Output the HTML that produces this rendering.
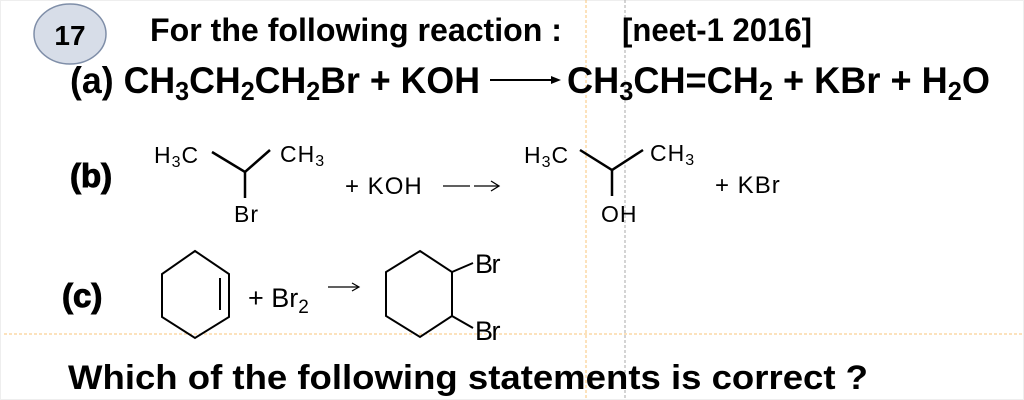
<!DOCTYPE html>
<html><head><style>
html,body{margin:0;padding:0;background:#fff;}
svg{display:block;}
text{font-family:"Liberation Sans",Arial,sans-serif;fill:#000;}
.b{font-weight:bold;}
</style></head><body>
<svg width="1024" height="400" viewBox="0 0 1024 400">
<rect x="0.5" y="0.5" width="1023" height="399" fill="#fff" stroke="#eee"/>
<line x1="586" y1="0" x2="586" y2="400" stroke="#f8c57a" stroke-width="1" stroke-dasharray="3,2"/>
<line x1="625" y1="0" x2="625" y2="400" stroke="#aaa" stroke-width="1" stroke-dasharray="3,2"/>
<line x1="4" y1="334" x2="1024" y2="334" stroke="#f8c57a" stroke-width="1" stroke-dasharray="3,2"/>
<ellipse cx="70" cy="34" rx="36" ry="30" fill="#d7dde8" stroke="#7f8ea8" stroke-width="1.5"/>
<text x="70" y="45" class="b" font-size="28" text-anchor="middle">17</text>
<text x="150" y="41" class="b" font-size="32" textLength="412" lengthAdjust="spacingAndGlyphs">For the following reaction :</text>
<text x="622" y="41" class="b" font-size="32" textLength="190" lengthAdjust="spacingAndGlyphs">[neet-1 2016]</text>
<text x="70" y="93" class="b" font-size="37" textLength="410" lengthAdjust="spacingAndGlyphs">(a) CH<tspan font-size="26" dy="7">3</tspan><tspan dy="-7">CH</tspan><tspan font-size="26" dy="7">2</tspan><tspan dy="-7">CH</tspan><tspan font-size="26" dy="7">2</tspan><tspan dy="-7">Br + KOH</tspan></text>
<line x1="490" y1="80" x2="553" y2="80" stroke="#000" stroke-width="2"/>
<polygon points="561,80 551,76 551,84" fill="#000"/>
<text x="567" y="93" class="b" font-size="37" textLength="423" lengthAdjust="spacingAndGlyphs">CH<tspan font-size="26" dy="7">3</tspan><tspan dy="-7">CH=CH</tspan><tspan font-size="26" dy="7">2</tspan><tspan dy="-7"> + KBr + H</tspan><tspan font-size="26" dy="7">2</tspan><tspan dy="-7">O</tspan></text>
<text x="70" y="187" class="b" font-size="33" stroke="#000" stroke-width="1">(b)</text>
<text x="154" y="163" font-size="23" letter-spacing="1">H<tspan font-size="16" dy="4">3</tspan><tspan dy="-4">C</tspan></text>
<polyline points="212,152 245,172 270,150" fill="none" stroke="#000" stroke-width="2.5"/>
<line x1="245" y1="172" x2="245" y2="198" stroke="#000" stroke-width="2.5"/>
<text x="280" y="162" font-size="23" letter-spacing="1">CH<tspan font-size="16" dy="4">3</tspan></text>
<text x="234" y="222" font-size="23" letter-spacing="1">Br</text>
<text x="345" y="194" font-size="24" letter-spacing="1">+ KOH</text>
<line x1="443" y1="186" x2="470" y2="186" stroke="#000" stroke-width="1.3"/>
<line x1="474" y1="186" x2="498" y2="186" stroke="#000" stroke-width="1.3"/>
<polyline points="491,181 499,186 491,191" fill="none" stroke="#000" stroke-width="1.3"/>
<text x="524" y="163" font-size="23" letter-spacing="1">H<tspan font-size="16" dy="4">3</tspan><tspan dy="-4">C</tspan></text>
<polyline points="580,150 612,170 643,150" fill="none" stroke="#000" stroke-width="2.5"/>
<line x1="612" y1="170" x2="612" y2="196" stroke="#000" stroke-width="2.5"/>
<text x="650" y="161" font-size="23" letter-spacing="1">CH<tspan font-size="16" dy="4">3</tspan></text>
<text x="601" y="222" font-size="23" letter-spacing="1">OH</text>
<text x="715" y="193" font-size="24" letter-spacing="1">+ KBr</text>
<text x="62" y="307" class="b" font-size="33" stroke="#000" stroke-width="1">(c)</text>
<polygon points="195,251 229,274 229,317 195,338 162,317 162,274" fill="none" stroke="#000" stroke-width="2"/>
<line x1="220" y1="278" x2="220" y2="310" stroke="#000" stroke-width="2"/>
<text x="248" y="307" font-size="27">+ Br<tspan font-size="19" dy="6">2</tspan></text>
<line x1="328" y1="287" x2="358" y2="287" stroke="#000" stroke-width="1.2"/>
<polyline points="352,283 359,287 352,291" fill="none" stroke="#000" stroke-width="1.2"/>
<polygon points="420,251 452,272 452,316 420,337 386,316 386,272" fill="none" stroke="#000" stroke-width="2"/>
<line x1="452" y1="272" x2="473" y2="263" stroke="#000" stroke-width="2"/>
<line x1="452" y1="316" x2="473" y2="328" stroke="#000" stroke-width="2"/>
<text x="475" y="273" font-size="27" letter-spacing="-1.5">Br</text>
<text x="475" y="340" font-size="27" letter-spacing="-1.5">Br</text>
<text x="68" y="389" class="b" font-size="34" textLength="800" lengthAdjust="spacingAndGlyphs">Which of the following statements is correct ?</text>
</svg>
</body></html>
